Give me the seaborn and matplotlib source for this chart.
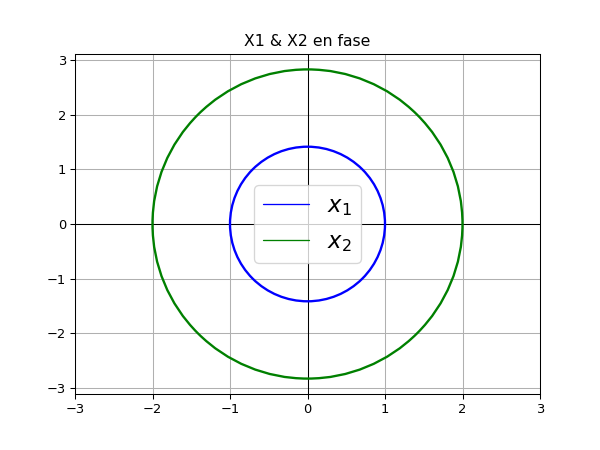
import numpy as np
import matplotlib
matplotlib.use("Agg")
import matplotlib.pyplot as plt
from matplotlib.patches import Ellipse
from matplotlib.lines import Line2D
import seaborn as sns

# semi-axes of each orbit (position amplitude, velocity amplitude)
labels = ["$x_1$", "$x_2$"]
colors = ["blue", "green"]
amp_x = [1.0, 2.0]
amp_v = [1.414, 2.828]
x_lim = [-3, 3]
y_lim = [-3.11, 3.11]
ticks = [-3, -2, -1, 0, 1, 2, 3]

sns.reset_orig()
sns.set_style("white", rc={
    "axes.edgecolor": "black",
    "axes.labelcolor": "black",
    "text.color": "black",
    "axes.grid": True,
    "grid.color": "#b0b0b0",
    "grid.linewidth": 0.8,
    "xtick.bottom": True,
    "ytick.left": True,
    "xtick.color": "black",
    "ytick.color": "black",
})
plt.rcParams["font.family"] = ["DejaVu Sans"]

fig = plt.figure(figsize=(6.4, 4.8), dpi=93.75)
ax = fig.add_axes([75 / 600, 56 / 450, 465 / 600, 340 / 450])

handles = []
for lab, col, a, b in zip(labels, colors, amp_x, amp_v):
    ax.add_patch(Ellipse((0, 0), 2 * a, 2 * b, fill=False,
                         edgecolor=col, linewidth=1.8, zorder=3))
    handles.append(Line2D([], [], color=col, linewidth=1))

ax.axhline(0, color="black", linewidth=0.8, zorder=2)
ax.axvline(0, color="black", linewidth=0.8, zorder=2)

ax.set_xlim(x_lim)
ax.set_ylim(y_lim)
ax.set_xticks(ticks)
ax.set_yticks(ticks)
ax.grid(True)
ax.set_title("X1 & X2 en fase", color="black")
ax.legend(handles, labels, loc="center", fontsize=17.5)

fig.savefig("out.png", dpi=93.75)
